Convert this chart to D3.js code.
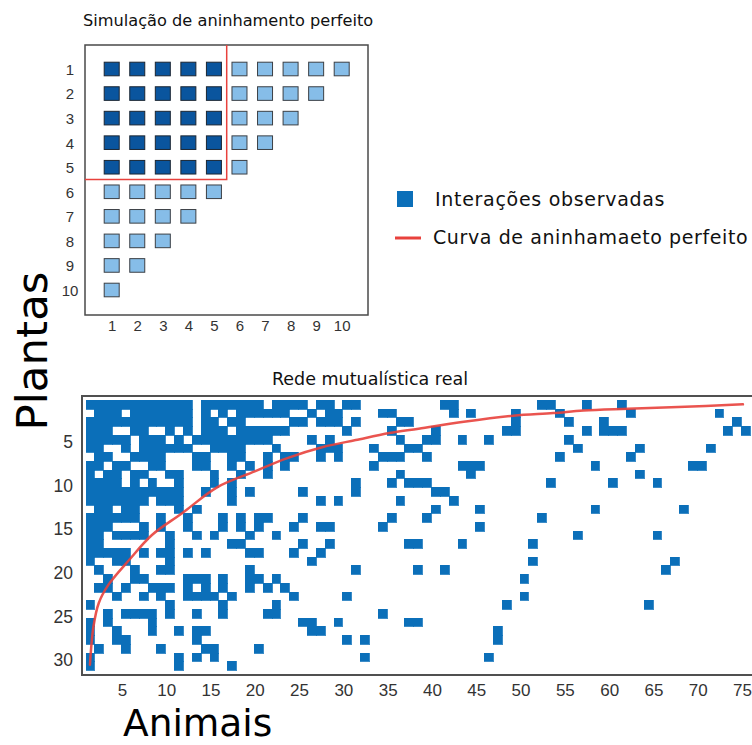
<!DOCTYPE html>
<html><head><meta charset="utf-8">
<script src="https://cdn.jsdelivr.net/npm/d3@7"></script>
<style>
body{margin:0;background:#fff}
svg{display:block}
text{font-family:"DejaVu Sans",Verdana,sans-serif}
.tick text{font-family:"Liberation Sans",Arial,sans-serif}
</style>
</head><body>
<svg id="chart" width="752" height="745"></svg>
<script>
// ---------- data ----------
const simTitle = "Simulação de aninhamento perfeito";
const simRowLabels = [1,2,3,4,5,6,7,8,9,10];
const simColLabels = [1,2,3,4,5,6,7,8,9,10];
const simRowLengths = [10,9,8,7,6,5,4,3,2,1];
const simCoreSize = 5;

const legendLabels = ["Interações observadas","Curva de aninhamaeto perfeito"];

const realTitle = "Rede mutualística real";
const yAxisTitle = "Plantas";
const xAxisTitle = "Animais";
const nAnimals = 76;
const nPlants = 31;
const animalTicks = [5,10,15,20,25,30,35,40,45,50,55,60,65,70,75];
const plantTicks = [5,10,15,20,25,30];

// observed interactions: for each plant (row), the animals (columns) it interacts with
const interactions = [
  "1-12,14-20,22-25,27-28,30-31,41-42,52-53,57,61",
  "2-4,6-12,14,16,18-23,26,28-29,34-35,42,44,49,54,62,72",
  "1-12,14-15,17-18,24-25,27-29,31,36-37,49,55,59,74",
  "1-3,6-7,10,12,14-16,18-23,30,35,40,48-49,57,59-61,73,75",
  "1-5,7-9,11,13-21,26,28,36,39-40,43,46,55",
  "1-2,5,7-12,15-18,22,27-29,33,37-38,56,63,71",
  "2-3,6-9,13-14,17-18,21,23-24,27,29,34-36,39,54,62",
  "1-2,4-5,8-9,13-14,17,19,21,23,33,43-45,58,69-70",
  "1,3-4,6-7,10-11,15,18,21,36,44,63",
  "1-4,6,8,11,15,17,31,35,37-39,53,60,65",
  "1-11,14,17,19,25,31,40-41",
  "1-7,9-11,17,27,29,36,42",
  "2-3,5-6,11,13,40,45,58,68",
  "1-6,9,12,16,18,20-21,25,35,39,52",
  "1-3,7,9,12,16,18,20,24,27-28,34,45",
  "1-2,4-7,10,13,15,19,22,56,65",
  "1-2,10,17-18,25,28,37-38,43,51",
  "1-5,7,9-10,12,14,19-20,24,27",
  "1,4-5,10,26,51,67",
  "2,6,9-10,19,31,38,41,66",
  "3,6-7,12-14,16,19-20,22,50",
  "2-3,5,8-10,12,14,16,19,21,23",
  "4,7,9,12-15,17,24,30,50",
  "1,10,16,22,48,64",
  "3,5-8,10,13,16,21-22,34",
  "1,3,8,25-26,29,37-38",
  "1,4,8,11,13-14,26-27,47",
  "1,4-5,13,30,32,47",
  "2,5,9,14-15,20",
  "1,11,13,15,32,46",
  "1,11,17"
];

// perfect-nestedness curve (animal index, plant index)
const curveAnimal = [1.0,1.4,2.0,3.1,5.4,8.0,11.4,15.4,19.6,23.2,27.3,31.0,34.8,38.1,43.2,48.8,53.3,56.7,61.7,67.4,74.7];
const curvePlant  = [30.9,26.5,23.8,21.7,18.9,16.0,13.5,10.5,8.7,7.2,5.9,5.1,4.3,3.8,3.0,2.3,2.0,1.7,1.5,1.3,1.0];

// ---------- styles ----------
const BLUE = "#0b6fb9", RED = "#e8413c";
const svg = d3.select("#chart");

// ---------- top: simulation ----------
const sx = d3.scaleLinear().domain([1,10]).range([111.7,341.7]);
const sy = d3.scaleLinear().domain([1,10]).range([69,290]);

svg.append("text").attr("x",83).attr("y",26).attr("font-size",16.2).attr("fill","#111").text(simTitle);
svg.append("rect").attr("x",85).attr("y",45).attr("width",283).attr("height",270)
  .attr("fill","none").attr("stroke","#4a4a4a").attr("stroke-width",1.5);

const simCells = [];
simRowLengths.forEach((len,i)=>{ for(let c=1;c<=len;c++) simCells.push({r:i+1,c}); });
svg.append("g").selectAll("rect").data(simCells).join("rect")
  .attr("x",d=>sx(d.c)-7.5).attr("y",d=>sy(d.r)-6.8)
  .attr("width",15).attr("height",13.6)
  .attr("fill",d=>(d.r<=simCoreSize&&d.c<=simCoreSize)?"#0a559e":"#86bde8")
  .attr("stroke",d=>(d.r<=simCoreSize&&d.c<=simCoreSize)?"#1b2633":"#3b3f45")
  .attr("stroke-width",1);

svg.append("path")
  .attr("d",`M${sx(simCoreSize+0.5)},45 V${sy(simCoreSize+0.5)} H85`)
  .attr("fill","none").attr("stroke",RED).attr("stroke-width",1.5);

const simAxisY = d3.axisLeft(sy).tickValues(simRowLabels).tickSize(0).tickPadding(0);
svg.append("g").attr("transform","translate(78,0)").call(simAxisY)
  .call(g=>g.select(".domain").remove())
  .call(g=>g.selectAll("text").attr("font-size",15).attr("fill","#333").attr("text-anchor","middle").attr("x",-8).attr("dy","0.36em"));
const simAxisX = d3.axisBottom(sx).tickValues(simColLabels).tickSize(0).tickPadding(0);
svg.append("g").attr("transform","translate(0,320)").call(simAxisX)
  .call(g=>g.select(".domain").remove())
  .call(g=>g.selectAll("text").attr("font-size",15).attr("fill","#333").attr("dy","0.71em"));

// ---------- legend ----------
svg.append("rect").attr("x",397).attr("y",191).attr("width",16).attr("height",16).attr("fill",BLUE);
svg.append("text").attr("x",435).attr("y",206).attr("font-size",19).attr("letter-spacing",0.7).attr("fill","#111").text(legendLabels[0]);
svg.append("line").attr("x1",395).attr("x2",421).attr("y1",238).attr("y2",238).attr("stroke",RED).attr("stroke-width",3);
svg.append("text").attr("x",433).attr("y",244).attr("font-size",19).attr("letter-spacing",0.6).attr("fill","#111").text(legendLabels[1]);

// ---------- bottom: real network ----------
const X = d3.scaleLinear().domain([0.5,nAnimals+0.5]).range([85.5,85.5+nAnimals*8.86]);
const Y = d3.scaleLinear().domain([0.5,nPlants+0.5]).range([400,400+nPlants*8.71]);

svg.append("text").attr("x",370).attr("y",385).attr("font-size",17.5).attr("text-anchor","middle").attr("fill","#111").text(realTitle);

const cells = [];
interactions.forEach((s,i)=>{
  s.split(",").forEach(part=>{
    const [a,b] = part.split("-").map(Number);
    for(let c=a;c<=(b||a);c++) cells.push({r:i+1,c});
  });
});
const rx0 = d=>Math.round(X(d.c-0.5)), rx1 = d=>Math.round(X(d.c+0.5));
const ry0 = d=>Math.round(Y(d.r-0.5)), ry1 = d=>Math.round(Y(d.r+0.5));
svg.append("g").attr("shape-rendering","crispEdges").selectAll("rect").data(cells).join("rect")
  .attr("x",rx0).attr("y",ry0)
  .attr("width",d=>rx1(d)-rx0(d))
  .attr("height",d=>ry1(d)-ry0(d))
  .attr("fill",BLUE).attr("stroke",BLUE).attr("stroke-width",0.8);

svg.append("rect").attr("x",82).attr("y",396).attr("width",700).attr("height",279)
  .attr("fill","none").attr("stroke","#505050").attr("stroke-width",2);

const curvePts = curveAnimal.map((a,i)=>[a,curvePlant[i]]);
svg.append("path").datum(curvePts)
  .attr("d",d3.line().x(d=>X(d[0])).y(d=>Y(d[1])).curve(d3.curveCatmullRom))
  .attr("fill","none").attr("stroke",RED).attr("stroke-width",2.5).attr("stroke-linecap","round").attr("opacity",0.9);

const yAxis = d3.axisLeft(Y).tickValues(plantTicks).tickSize(0).tickPadding(9);
svg.append("g").attr("transform","translate(82,3)").call(yAxis)
  .call(g=>g.select(".domain").remove())
  .call(g=>g.selectAll("text").attr("font-size",17.5).attr("fill","#333"));
const xAxis = d3.axisBottom(X).tickValues(animalTicks).tickSize(0).tickPadding(9);
svg.append("g").attr("transform","translate(-3.5,675)").call(xAxis)
  .call(g=>g.select(".domain").remove())
  .call(g=>g.selectAll("text").attr("font-size",17).attr("fill","#333"));

svg.append("text").attr("transform","translate(47,351) rotate(-90)").attr("text-anchor","middle")
  .attr("font-size",43.5).attr("fill","#000").text(yAxisTitle);
svg.append("text").attr("x",123).attr("y",736).attr("font-size",37.5).attr("fill","#000").text(xAxisTitle);
</script>
</body></html>
